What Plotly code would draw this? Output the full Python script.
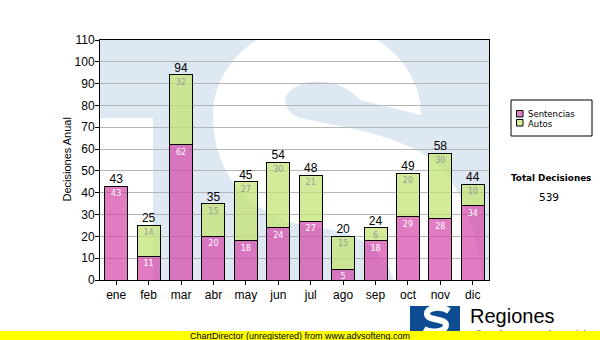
import plotly.graph_objects as go

# ---- data -------------------------------------------------------------
meses = ["ene", "feb", "mar", "abr", "may", "jun", "jul", "ago", "sep", "oct", "nov", "dic"]
sentencias = [43, 11, 62, 20, 18, 24, 27, 5, 18, 29, 28, 34]
autos = [0, 14, 32, 15, 27, 30, 21, 15, 6, 20, 30, 10]
totales = [s + a for s, a in zip(sentencias, autos)]
total_decisiones = sum(totales)
y_ticks = list(range(0, 111, 10))

# ---- geometry ---------------------------------------------------------
W, H = 600, 340
L, R, T, B = 100, 111, 40, 60
PW, PH = W - L - R, H - T - B
Y_MAX = 110
x_idx = list(range(len(meses)))

FONT = "Liberation Sans"
SMALL = "DejaVu Sans"

PINK = "rgba(214,72,170,0.72)"
GREEN = "rgba(196,228,118,0.75)"
PINK_SW = "#e07fc4"
GREEN_SW = "#d4ec9c"
BG_BLUE = "#dee8f2"
LOGO_BLUE = "#0d4c92"


def fx(px):
    """pixel x -> paper x"""
    return (px - L) / PW


def fy(py):
    """pixel y -> paper y"""
    return (H - B - py) / PH


def dx(px):
    """pixel x -> data x (clipped to the plot area)"""
    return (px - L) / PW * len(meses) - 0.5


def dy(py):
    """pixel y -> data y"""
    return (H - B - py) / PH * Y_MAX


def path(nodes, conv_x, conv_y, close=True):
    out = []
    for cmd, *pts in nodes:
        coords = " ".join(f"{conv_x(x):.4f},{conv_y(y):.4f}" for x, y in pts)
        out.append(f"{cmd} {coords}")
    return " ".join(out) + (" Z" if close else "")


# large faded "S" emblem behind the bars
s_outline = [
    ("M", (421, 115)),
    ("C", (421, 64), (374, 23), (317, 23)),
    ("C", (260, 23), (213, 64), (213, 115)),
    ("C", (213, 175), (250, 220), (320, 228)),
    ("C", (365, 233), (390, 255), (398, 295)),
    ("L", (398, 300)),
    ("L", (482, 300)),
    ("C", (482, 230), (460, 175), (420, 152)),
    ("C", (380, 130), (330, 125), (300, 118)),
    ("C", (283, 112), (280, 95), (295, 87)),
    ("C", (315, 76), (345, 82), (360, 100)),
]

# small "S" stroke inside the footer emblem
s_small = [
    ("M", (449, 311)),
    ("C", (442, 306), (427, 307), (427, 314)),
    ("C", (427, 321), (446, 318), (446, 325)),
    ("C", (446, 332), (431, 333), (424, 329)),
]

fig = go.Figure()

fig.add_trace(go.Bar(
    x=x_idx, y=sentencias, name="Sentencias",
    marker=dict(color=PINK, line=dict(color="black", width=1)),
    text=[str(v) if v else "" for v in sentencias],
    textposition="inside", insidetextanchor="end", textangle=0,
    insidetextfont=dict(family=SMALL, size=8, color="white"),
    hoverinfo="skip",
))
fig.add_trace(go.Bar(
    x=x_idx, y=autos, name="Autos",
    marker=dict(color=GREEN, line=dict(color="black", width=1)),
    text=[str(v) if v else "" for v in autos],
    textposition="inside", insidetextanchor="end", textangle=0,
    insidetextfont=dict(family=SMALL, size=8, color="#9a9a9a"),
    hoverinfo="skip",
))
fig.add_trace(go.Scatter(
    x=x_idx, y=totales, mode="text", text=[str(v) for v in totales],
    textposition="top center",
    textfont=dict(family=FONT, size=12, color="black"),
    hoverinfo="skip", showlegend=False,
))

shapes = [
    dict(type="rect", xref="x", yref="y", x0=dx(L), x1=dx(153), y0=0, y1=dy(118),
         fillcolor="white", line=dict(width=0), layer="below"),
    dict(type="path", xref="x", yref="y", path=path(s_outline, dx, dy),
         fillcolor="white", line=dict(width=0), layer="below"),
    # legend box and swatches
    dict(type="rect", xref="paper", yref="paper", x0=fx(511), x1=fx(592), y0=fy(100), y1=fy(136),
         fillcolor="white", line=dict(color="black", width=1)),
    dict(type="rect", xref="paper", yref="paper", x0=fx(516.5), x1=fx(523), y0=fy(110.5), y1=fy(117),
         fillcolor=PINK_SW, line=dict(color="black", width=1)),
    dict(type="rect", xref="paper", yref="paper", x0=fx(516.5), x1=fx(523), y0=fy(119.5), y1=fy(126),
         fillcolor=GREEN_SW, line=dict(color="black", width=1)),
    # footer emblem
    dict(type="rect", xref="paper", yref="paper", x0=fx(410), x1=fx(460), y0=fy(306), y1=fy(340),
         fillcolor=LOGO_BLUE, line=dict(width=0)),
    dict(type="path", xref="paper", yref="paper", path=path(s_small, fx, fy, close=False),
         fillcolor="rgba(0,0,0,0)", line=dict(color="white", width=6)),
]

annotations = [
    dict(xref="paper", yref="paper", x=fx(66.5), y=fy(160), text="Decisiones Anual",
         textangle=-90, showarrow=False, xanchor="center", yanchor="middle",
         font=dict(family=FONT, size=11, color="black")),
    dict(xref="paper", yref="paper", x=fx(526), y=fy(114), text="Sentencias",
         showarrow=False, xanchor="left", yanchor="middle",
         font=dict(family=SMALL, size=8.5, color="black")),
    dict(xref="paper", yref="paper", x=fx(526), y=fy(123.5), text="Autos",
         showarrow=False, xanchor="left", yanchor="middle",
         font=dict(family=SMALL, size=8.5, color="black")),
    dict(xref="paper", yref="paper", x=fx(551), y=fy(177.5), text="<b>Total Decisiones</b>",
         showarrow=False, xanchor="center", yanchor="middle",
         font=dict(family=SMALL, size=8.8, color="black")),
    dict(xref="paper", yref="paper", x=fx(548.5), y=fy(197), text=str(total_decisiones),
         showarrow=False, xanchor="center", yanchor="middle",
         font=dict(family=SMALL, size=10.5, color="black")),
    dict(xref="paper", yref="paper", x=fx(468), y=fy(316), text="Regiones",
         showarrow=False, xanchor="left", yanchor="middle",
         font=dict(family=FONT, size=20, color="black")),
    dict(xref="paper", yref="paper", x=fx(466), y=fy(326), text="Tribunal Supremo de Justicia",
         showarrow=False, xanchor="left", yanchor="top",
         font=dict(family=FONT, size=9.5, color="black")),
    # footer band
    dict(xref="paper", yref="paper", x=fx(0), y=fy(331), text="ChartDirector (unregistered) from www.advsofteng.com",
         showarrow=False, xanchor="left", yanchor="top", width=600, height=9, valign="top",
         bgcolor="#ffff00", borderpad=0, borderwidth=0,
         font=dict(family=FONT, size=9, color="black")),
]

fig.update_layout(
    width=W, height=H,
    margin=dict(l=L, r=R, t=T, b=B, pad=0),
    barmode="stack", bargap=0.29,
    paper_bgcolor="white", plot_bgcolor=BG_BLUE,
    showlegend=False,
    font=dict(family=FONT, size=12, color="black"),
    uniformtext=dict(minsize=8, mode="show"),
    shapes=shapes, annotations=annotations,
    xaxis=dict(
        range=[-0.5, len(meses) - 0.5], tickmode="array", tickvals=x_idx, ticktext=meses,
        showgrid=False, zeroline=False, showline=True, linecolor="black", linewidth=1, mirror=True,
        ticks="outside", ticklen=4, tickcolor="black", tickwidth=1,
        tickfont=dict(family=FONT, size=12, color="black"), fixedrange=True,
    ),
    yaxis=dict(
        range=[0, Y_MAX], tickmode="array", tickvals=y_ticks,
        showgrid=True, gridcolor="#b5b5b5", gridwidth=1, zeroline=False,
        showline=True, linecolor="black", linewidth=1, mirror=True,
        ticks="outside", ticklen=4, tickcolor="black", tickwidth=1, ticklabelstandoff=-2,
        tickfont=dict(family=FONT, size=12, color="black"), fixedrange=True,
    ),
)

fig.write_html("out.html", config={"displayModeBar": False})
